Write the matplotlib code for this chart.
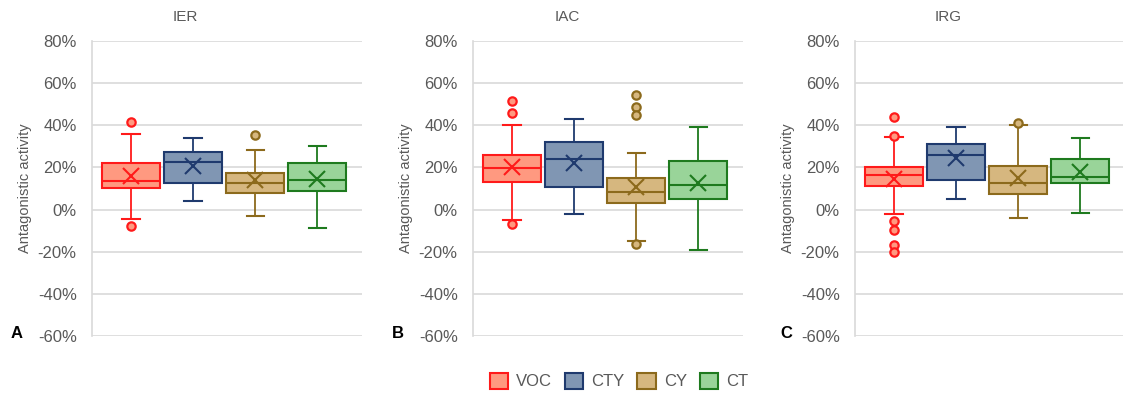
import numpy as np
import matplotlib.pyplot as plt
from matplotlib.patches import Patch
from matplotlib.ticker import PercentFormatter

plt.rcParams['font.family'] = ['Liberation Sans', 'DejaVu Sans']
plt.rcParams['axes.unicode_minus'] = False

panels = ['IER', 'IAC', 'IRG']
letters = ['A', 'B', 'C']
groups = ['VOC', 'CTY', 'CY', 'CT']

# per panel, per group: [whisker low, Q1, median, Q3, whisker high], mean, outliers (%)
IER_box = [[-4.4, 10.3, 13.5, 21.9, 36.0],
           [4.0, 12.4, 22.6, 27.2, 34.0],
           [-2.9, 8.1, 12.7, 17.4, 28.2],
           [-8.7, 8.9, 13.8, 21.9, 30.1]]
IER_mean = [15.8, 20.7, 13.9, 14.4]
IER_out = [[41.6, -7.8], [], [35.2], []]

IAC_box = [[-5.1, 13.1, 19.8, 25.7, 40.1],
           [-1.9, 10.5, 24.1, 32.0, 43.1],
           [-15.0, 3.0, 8.4, 14.9, 26.8],
           [-19.0, 4.9, 11.6, 23.0, 39.1]]
IAC_mean = [20.3, 22.3, 10.5, 12.8]
IAC_out = [[51.6, 45.6, -6.7], [], [54.6, 48.6, 45.0, -16.3], []]

IRG_box = [[-1.9, 11.1, 16.3, 20.4, 34.5],
           [5.1, 13.9, 25.7, 30.9, 39.1],
           [-3.8, 7.6, 12.7, 20.7, 40.1],
           [-1.6, 12.7, 15.5, 23.9, 34.2]]
IRG_mean = [14.7, 24.4, 15.0, 17.9]
IRG_out = [[43.9, 34.7, -5.4, -9.8, -16.9, -20.1], [], [41.2], []]

boxes = [IER_box, IAC_box, IRG_box]
means = [IER_mean, IAC_mean, IRG_mean]
outliers = [IER_out, IAC_out, IRG_out]

face_colors = ['#FF9980', '#8096B3', '#D6B77F', '#99D499']
edge_colors = ['#FF1A1A', '#1F3A6E', '#8C6A1C', '#1E7A1E']

fig = plt.figure(figsize=(11.23, 3.94), dpi=100)
W, H = 1123, 394
axes_left = [92, 473, 855]
title_x = [185, 567, 948]
letter_x = [17, 398, 786]

for k in range(3):
    ax = fig.add_axes([axes_left[k] / W, 1 - 336 / H, 270 / W, 295 / H])
    for i, g in enumerate(groups):
        lo, q1, med, q3, hi = boxes[k][i]
        stats = [dict(whislo=lo, q1=q1, med=med, q3=q3, whishi=hi,
                      mean=means[k][i], fliers=outliers[k][i], label=g)]
        ec = edge_colors[i]
        ax.bxp(stats, positions=[i], widths=0.94, capwidths=0.28,
               patch_artist=True, showmeans=True, manage_ticks=False,
               boxprops=dict(facecolor=face_colors[i], edgecolor=ec, linewidth=1.5),
               medianprops=dict(color=ec, linewidth=1.5),
               whiskerprops=dict(color=ec, linewidth=1.3),
               capprops=dict(color=ec, linewidth=1.5),
               meanprops=dict(marker='x', markeredgecolor=ec, markersize=11,
                              markeredgewidth=1.5),
               flierprops=dict(marker='o', markerfacecolor=face_colors[i],
                               markeredgecolor=ec, markersize=6,
                               markeredgewidth=1.6))
    ax.set_xlim(-0.63, 3.72)
    ax.set_ylim(-60, 80)
    ax.set_yticks(np.arange(-60, 81, 20))
    ax.yaxis.set_major_formatter(PercentFormatter(decimals=0))
    ax.set_xticks([])
    ax.grid(axis='y', color='#D9D9D9', linewidth=1.2)
    ax.set_axisbelow(True)
    for s in ['top', 'right', 'bottom']:
        ax.spines[s].set_visible(False)
    ax.spines['left'].set_color('#D9D9D9')
    ax.spines['left'].set_linewidth(1.2)
    ax.tick_params(axis='y', length=0, pad=11, labelsize=12, labelcolor='#595959')
    ax.set_ylabel('Antagonistic activity', fontsize=10.5, color='#595959', labelpad=4)
    fig.text(title_x[k] / W, 1 - 17 / H, panels[k], ha='center', va='center',
             fontsize=11, color='#595959')
    fig.text(letter_x[k] / W, 1 - 334 / H, letters[k], ha='center', va='center',
             fontsize=12, fontweight='bold', color='black')

handles = [Patch(facecolor=face_colors[i], edgecolor=edge_colors[i], linewidth=1.5, label=g)
           for i, g in enumerate(groups)]
fig.legend(handles=handles, loc='center', bbox_to_anchor=(619 / W, 1 - 381 / H), ncol=4,
           frameon=False, fontsize=12, handlelength=1.1, handleheight=1.1,
           handletextpad=0.5, columnspacing=0.75, labelcolor='#595959')

fig.savefig('out.png', dpi=100)
